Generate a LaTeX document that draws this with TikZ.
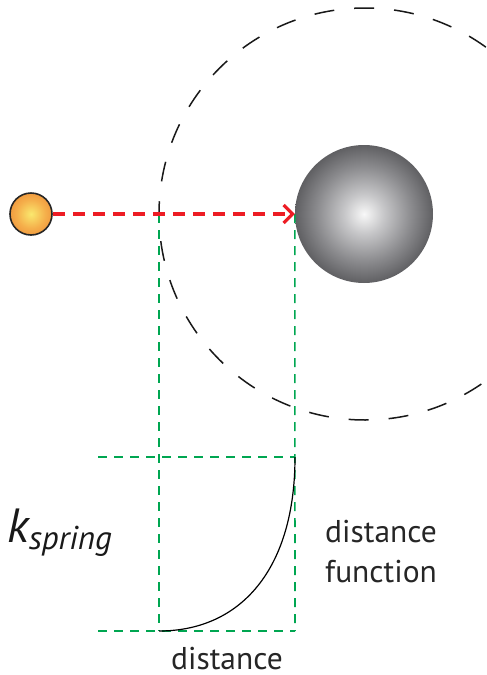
\documentclass[tikz,border=0pt]{standalone}
\usepackage{fontspec}
\setmainfont{PT Sans}
\usetikzlibrary{arrows.meta}
\definecolor{arrowred}{RGB}{237,28,36}
\definecolor{guidegreen}{RGB}{0,166,81}
\pgfdeclareradialshading{graysphere}{\pgfpoint{0bp}{0bp}}{%
  color(0bp)=(rgb,255:red,248;green,248;blue,248);
  color(7bp)=(rgb,255:red,200;green,200;blue,202);
  color(17bp)=(rgb,255:red,140;green,140;blue,143);
  color(26bp)=(rgb,255:red,90;green,90;blue,93);
  color(35bp)=(rgb,255:red,36;green,33;blue,34);
  color(50bp)=(rgb,255:red,36;green,33;blue,34)}
\pgfdeclareradialshading{orangeball}{\pgfpoint{0bp}{0bp}}{%
  color(0bp)=(rgb,255:red,250;green,232;blue,110);
  color(17bp)=(rgb,255:red,245;green,175;blue,75);
  color(35bp)=(rgb,255:red,236;green,132;blue,50);
  color(50bp)=(rgb,255:red,236;green,132;blue,50)}
\tikzset{
  guide/.style={draw=guidegreen, line width=1.6pt, dash pattern=on 9pt off 7pt},
  orbit/.style={draw=black!90, line width=1.5pt, dash pattern=on 20pt off 20pt},
  pull/.style={draw=arrowred, line width=3.8pt, dash pattern=on 12pt off 8pt,
    -{Straight Barb[length=9pt,width=18pt,line width=3.2pt]}},
  label/.style={font=\fontsize{31.5}{40}\selectfont, text=black!85, inner sep=0pt},
}
\begin{document}
\begin{tikzpicture}[x=1pt,y=-1pt]
\useasboundingbox (0,0) rectangle (487,675);
% orbit circle
\draw[orbit] (365,214) circle (206);
% objects
\node[circle, minimum size=138pt, inner sep=0pt, shading=graysphere] (sphere) at (364,214) {};
\node[circle, minimum size=42pt, inner sep=0pt, shading=orangeball, draw=black!85, line width=1.6pt] (ball) at (31,214) {};
% guide coordinates
\coordinate (vl) at (159,214);
\coordinate (vlb) at (159,631);
\coordinate (vrb) at (295,631);
\coordinate (hl1) at (98,457);
\coordinate (hr1) at (295,457);
\coordinate (hl2) at (98,631);
% green guides
\draw[guide] (vl) -- (vlb);
\draw[guide] (sphere.west) -- (vrb);
\draw[guide] (hl1) -- (hr1);
\draw[guide] (hl2) -- (vrb);
% red arrow
\draw[pull] (ball.east) -- (sphere.west);
% distance function curve
\draw[black, line width=1.2pt] (vlb) .. controls (240,631) and (295,570) .. (hr1);
% labels
\node[label, anchor=base] (dist) at (227,669) {distance};
\node[label, anchor=base west, align=left] (dfun) at (325,582) {distance\\function};
\node[anchor=base west, inner sep=0pt, text=black!90] (ks) at (7,542)
  {\fontsize{48}{48}\selectfont\itshape k\raisebox{-7pt}{\fontsize{33}{33}\selectfont\itshape spring}};
\end{tikzpicture}
\end{document}
